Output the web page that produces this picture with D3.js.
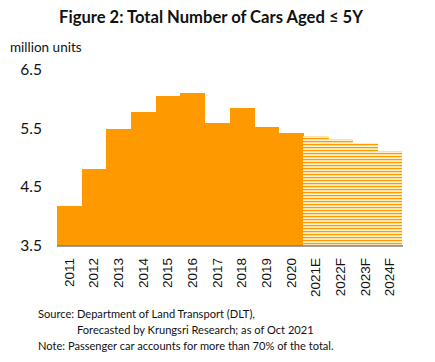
<!DOCTYPE html>
<html>
<head>
<meta charset="utf-8">
<script src="https://cdn.jsdelivr.net/npm/d3@7"></script>
<style>
  body { margin: 0; background: #fff; }
  svg { display: block; font-family: Lato, "Liberation Sans", sans-serif; }
</style>
</head>
<body>
<div id="chart"></div>
<script>
// data
var years = ["2011", "2012", "2013", "2014", "2015", "2016", "2017", "2018", "2019", "2020",
             "2021E", "2022F", "2023F", "2024F"];
var cars = [4.17, 4.81, 5.49, 5.77, 6.05, 6.10, 5.58, 5.85, 5.52, 5.41,
            5.37, 5.32, 5.24, 5.11];
var forecast = [false, false, false, false, false, false, false, false, false, false,
                true, true, true, true];
var yTicks = [3.5, 4.5, 5.5, 6.5];

var svgWidth = 435;
var svgHeight = 362;

var svg = d3.select("#chart")
  .append("svg")
  .attr("width", svgWidth)
  .attr("height", svgHeight);

// striped fill for forecast years
var defs = svg.append("defs");
var pat = defs.append("pattern")
  .attr("id", "stripes")
  .attr("patternUnits", "userSpaceOnUse")
  .attr("width", 10)
  .attr("height", 3);
pat.append("rect").attr("width", 10).attr("height", 3).attr("fill", "#fff0cc");
pat.append("rect").attr("y", 0).attr("width", 10).attr("height", 1.2).attr("fill", "#ff9900");

// scales
var x = d3.scaleBand()
  .domain(years)
  .range([57, 402])
  .paddingInner(0)
  .paddingOuter(0);

var y = d3.scaleLinear()
  .domain([3.5, 6.5])
  .range([245.5, 69.5]);

// title
svg.append("text")
  .attr("x", 211)
  .attr("y", 23)
  .attr("text-anchor", "middle")
  .attr("font-weight", "bold")
  .attr("font-size", "16.6px")
  .attr("fill", "#111")
  .text("Figure 2: Total Number of Cars Aged ≤ 5Y");

svg.append("text")
  .attr("x", 10)
  .attr("y", 52)
  .attr("font-size", "13.5px")
  .attr("fill", "#111")
  .text("million units");

// bars
svg.selectAll("rect.bar")
  .data(cars)
  .enter()
  .append("rect")
  .attr("class", "bar")
  .attr("x", (d, i) => x(years[i]))
  .attr("y", d => y(d))
  .attr("width", (d, i) => x.bandwidth() + (i < years.length - 1 ? 0.6 : 0))
  .attr("height", d => y(3.5) - y(d))
  .attr("shape-rendering", "crispEdges")
  .attr("fill", (d, i) => forecast[i] ? "url(#stripes)" : "#ff9900");

// y axis labels only
var yAxis = d3.axisLeft(y).tickValues(yTicks).tickFormat(d3.format(".1f")).tickSize(0).tickPadding(0);
var yG = svg.append("g")
  .attr("transform", "translate(42,0)")
  .call(yAxis);
yG.select(".domain").remove();
yG.selectAll("text")
  .attr("font-family", "Lato, 'Liberation Sans', sans-serif")
  .attr("font-size", "15.5px")
  .attr("fill", "#111");

// x axis
var xAxis = d3.axisBottom(x).tickSize(0).tickPadding(0);
var xG = svg.append("g")
  .attr("transform", `translate(0, ${y(3.5)})`)
  .call(xAxis);
xG.select(".domain")
  .attr("stroke", "#7f7f7f")
  .attr("stroke-width", 1.5)
  .attr("d", "M57,0.5H403");
xG.selectAll("text")
  .attr("font-family", "'Liberation Sans', Arial, sans-serif")
  .attr("font-size", "13.5px")
  .attr("fill", "#111")
  .attr("text-anchor", "end")
  .attr("dy", null)
  .attr("dominant-baseline", "central")
  .attr("transform", "translate(0,12.5) rotate(-90)");

// notes
var notes = [
  { x: 38, y: 318, t: "Source: Department of Land Transport (DLT)," },
  { x: 77, y: 334, t: "Forecasted by Krungsri Research; as of Oct 2021" },
  { x: 38, y: 350, t: "Note: Passenger car accounts for more than 70% of the total." }
];
svg.selectAll("text.note")
  .data(notes)
  .enter()
  .append("text")
  .attr("class", "note")
  .attr("x", d => d.x)
  .attr("y", d => d.y)
  .attr("font-size", "11.1px")
  .attr("fill", "#111")
  .text(d => d.t);
</script>
</body>
</html>
